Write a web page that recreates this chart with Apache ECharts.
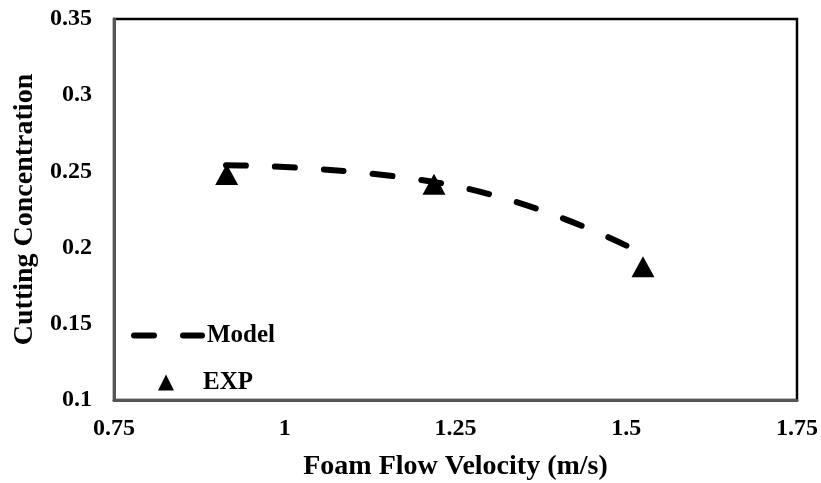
<!DOCTYPE html>
<html>
<head>
<meta charset="utf-8">
<script src="https://cdn.jsdelivr.net/npm/echarts@6/dist/echarts.min.js"></script>
<style>html,body{margin:0;padding:0;background:#fff;}#c{width:821px;height:483px;}</style>
</head>
<body>
<div id="c"></div>
<script>
// Data
const modelX = [0.914, 1.219, 1.524];
const modelY = [0.254, 0.243, 0.196];
const expX = [0.915, 1.2185, 1.5245];
const expY = [0.248, 0.2415, 0.1875];
const xTicks = [0.75, 1, 1.25, 1.5, 1.75];
const yTicks = [0.1, 0.15, 0.2, 0.25, 0.3, 0.35];

const FONT = "'Liberation Serif', 'Times New Roman', serif";
const modelDash = {color: '#000', width: 6, type: [20, 29], cap: 'round'};
const legendText = {fontFamily: FONT, fontWeight: 'bold', fontSize: 25, color: '#000'};
const chart = echarts.init(document.getElementById('c'), null, {renderer: 'canvas'});
chart.setOption({
  animation: false,
  backgroundColor: '#fff',
  grid: {left: 114, top: 19, right: 24, bottom: 83, show: true, borderColor: '#000', borderWidth: 2.5,
    containLabel: false, outerBoundsMode: 'none'},
  xAxis: {
    type: 'value', min: xTicks[0], max: xTicks[xTicks.length - 1], interval: 0.25,
    name: 'Foam Flow Velocity (m/s)', nameLocation: 'middle', nameGap: 53,
    nameTextStyle: {fontFamily: FONT, fontWeight: 'bold', fontSize: 28, color: '#000'},
    axisLine: {show: true, lineStyle: {color: '#555', width: 3}},
    axisTick: {show: false},
    splitLine: {show: false},
    axisLabel: {fontFamily: FONT, fontWeight: 'bold', fontSize: 24, color: '#000', margin: 17,
      formatter: v => String(+v.toFixed(2))}
  },
  yAxis: {
    type: 'value', min: yTicks[0], max: yTicks[yTicks.length - 1], interval: 0.05,
    name: 'Cutting Concentration', nameLocation: 'middle', nameGap: 73, nameRotate: 90,
    nameTextStyle: {fontFamily: FONT, fontWeight: 'bold', fontSize: 28, color: '#000'},
    axisLine: {show: true, lineStyle: {color: '#555', width: 3}},
    axisTick: {show: false},
    splitLine: {show: false},
    axisLabel: {fontFamily: FONT, fontWeight: 'bold', fontSize: 24, color: '#000', margin: 22,
      formatter: v => String(+v.toFixed(2))}
  },
  legend: [
    {
      orient: 'vertical', left: 131, top: 323, padding: 0, itemWidth: 68, itemHeight: 16,
      textStyle: legendText,
      data: [{name: 'Model', lineStyle: modelDash, itemStyle: {opacity: 0}}]
    },
    {
      orient: 'vertical', left: 158, top: 370, padding: 0, itemWidth: 16, itemHeight: 16,
      textStyle: Object.assign({padding: [0, 0, 0, 24]}, legendText),
      data: [{name: 'EXP', icon: 'triangle', itemStyle: {color: '#000', opacity: 1}}]
    }
  ],
  series: [
    {
      name: 'Model', type: 'line', smooth: true, showSymbol: false, symbol: 'none',
      data: modelX.map((x, i) => [x, modelY[i]]),
      lineStyle: modelDash,
      itemStyle: {color: '#000'}, z: 2
    },
    {
      name: 'EXP', type: 'scatter', symbol: 'triangle', symbolSize: [23, 21],
      data: expX.map((x, i) => [x, expY[i]]),
      itemStyle: {color: '#000', opacity: 1}, z: 3
    }
  ]
});
</script>
</body>
</html>
